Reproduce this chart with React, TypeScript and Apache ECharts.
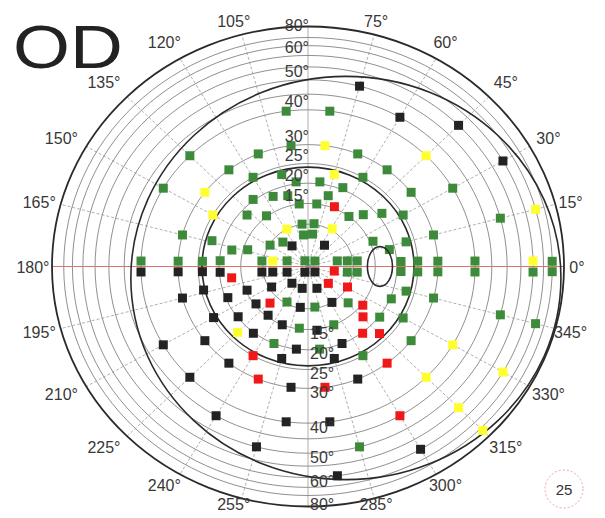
import React, { useEffect, useRef } from "react";
import * as echarts from "echarts";

const RAD = Math.PI / 180;
const S80 = Math.sin(80 * RAD);

// grid rings (eccentricity, degrees)
const RING_ECC = [10, 15, 20, 25, 30, 40, 45, 50, 55, 60, 65, 70];
const OUTER_ECC = 80;
const MERIDIANS = [0, 15, 30, 45, 60, 75, 90, 105, 120, 135, 150, 165, 180, 195, 210, 225, 240, 255, 270, 285, 300, 315, 330, 345];
const ANGLE_LABELS = [0, 15, 30, 45, 60, 75, 105, 120, 135, 150, 165, 180, 195, 210, 225, 240, 255, 285, 300, 315, 330, 345];
const RING_LABELS = [15, 20, 25, 30, 40, 50, 60, 80];

// isopters in projected units (1 = 80° ring)
const ISOPTERS = [
  { cx: 0, cy: 0, r: 1, w: 1.8 },
  { cx: 0.148, cy: -0.048, r: 0.84, w: 1.6 },
  { cx: 0, cy: 0, r: 0.414, w: 1.6 },
];
const BLIND_SPOT = { cx: 0.281, cy: 0, rx: 0.049, ry: 0.083 };

// test points: [meridian angle °, eccentricity °]
const GREEN_PTS: [number, number][] = [
  [97.5, 40], [82.5, 40], [97.5, 30], [112.5, 30], [67.5, 30], [127.5, 30], [120, 25], [105, 23], [60, 25], [52.5, 30],
  [135, 40], [150, 40], [165, 30], [178, 40], [177.5, 30], [177, 24], [285, 50], [322.5, 30], [345, 65], [345, 50],
  [330, 25], [345, 30], [345, 23], [15, 50], [30, 40], [37.5, 30], [30, 25], [15, 30], [15, 23], [3, 25], [357, 25],
  [2.5, 30], [357.5, 30], [2, 40], [358, 40], [358.5, 60], [1.3, 70], [358.7, 70], [3.3, 21], [356.7, 21], [300, 25],
  [277.5, 20], [247.5, 20],
  [97.5, 20.5], [82.5, 20.5], [67.5, 20.5], [127.5, 20.3], [115, 18.5], [105, 17.5], [75, 17.5], [97.5, 15], [82.5, 15],
  [52.5, 15], [45, 17.5], [37.5, 21], [138, 18.4], [127.5, 15.2], [97.5, 10.1], [82.5, 10.2], [97.5, 7.5], [82.5, 7.7],
  [164, 22.6], [167, 17.5], [163.5, 14], [149, 9.8], [134, 8], [22.5, 15.7], [12.5, 18.7],
  [176, 19.8], [172.7, 10.3], [164, 4.8], [117, 1.5], [40, 2], [11.5, 6.6], [8.6, 8.8], [6.9, 11],
  [351.4, 8.8], [353, 11], [241, 9.6], [279, 9.7], [316, 12.4], [323, 20.2], [262.5, 14.8], [292.5, 15], [337.5, 20.3],
];
const BLACK_PTS: [number, number][] = [
  [75, 50], [60, 45], [45, 55], [30, 60], [182, 40], [182.5, 30], [183, 24], [195, 30], [210, 40], [225, 40], [240, 45],
  [255, 50], [262.5, 40], [277.5, 40], [277.5, 60], [300, 60], [217.5, 30], [232.5, 30], [262.5, 30], [292.5, 30],
  [285, 23], [255, 23], [262.5, 20], [292.5, 20],
  [126, 6], [54, 6.2], [184, 19.8], [187.3, 10.3], [189.5, 7.9], [196, 4.8], [243, 1.5], [320, 2],
  [193.5, 24.4], [202.5, 19.5], [202.5, 14.7], [217.5, 14.6], [232.5, 14.6], [211, 9.4], [228, 5.3], [256, 5.3],
  [291, 5.5], [260, 9.8], [302, 10], [210, 24.8], [217.5, 19.8], [232.5, 20.2], [247.5, 15], [277.5, 15.3],
];
const YELLOW_PTS: [number, number][] = [
  [82.5, 30], [75, 23], [45, 40], [315, 72], [315, 55], [315, 40], [330, 60], [330, 40], [15, 65], [1.5, 60],
  [142.5, 30], [150, 25], [118, 10], [59, 10.4], [170.5, 7.9], [225, 22.5],
];
const RED_PTS: [number, number][] = [
  [300, 45], [240, 25], [247.5, 30], [277.5, 30], [307.5, 30], [67.5, 15.4], [189, 17.3], [349.5, 5.9], [318.5, 6],
  [331, 10], [225.8, 12.1], [323, 15.3], [315.7, 17.2], [307.5, 20.2], [315, 22.9],
];

const EYE = "OD";
const BADGE = "25";

function proj(angle: number, ecc: number): [number, number] {
  const r = Math.sin(ecc * RAD) / S80;
  return [r * Math.cos(angle * RAD), r * Math.sin(angle * RAD)];
}
// where an angle label sits, in axis units
function labelPos(a: number): [number, number] {
  const s = Math.sin(a * RAD);
  const k = 1 + 0.045 * Math.pow(Math.sin(2 * a * RAD), 2);
  return [-0.012 + 1.0625 * k * Math.cos(a * RAD), -0.006 + 0.022 * s * s + 1.029 * k * s];
}

const FONT = '"Liberation Sans", Arial, sans-serif';

function scatter(name: string, pts: [number, number][], color: string) {
  return {
    type: "scatter",
    name,
    symbol: "rect",
    symbolSize: 9,
    clip: false,
    z: 5,
    itemStyle: { color, opacity: 1 },
    data: pts.map(([a, e]) => proj(a, e)),
  };
}

export default function App() {
  const ref = useRef<HTMLDivElement>(null);
  useEffect(() => {
    if (!ref.current) return;
    const chart = echarts.init(ref.current, null, { renderer: "svg" });
    const option: any = {
      animation: false,
      backgroundColor: "#ffffff",
      grid: { left: 52, top: 26.5, width: 512, height: 480 },
      xAxis: { type: "value", min: -1, max: 1, show: false },
      yAxis: { type: "value", min: -1, max: 1, show: false },
      series: [
        {
          type: "custom",
          name: "rings",
          silent: true,
          clip: false,
          z: 1,
          data: RING_ECC.map((e) => [0, 0, e]),
          renderItem: (params: any, api: any) => {
            const e = RING_ECC[params.dataIndex];
            const r = Math.sin(e * RAD) / S80;
            const c = api.coord([0, 0]);
            const s = api.size([r, r]);
            return {
              type: "ellipse",
              shape: { cx: c[0], cy: c[1], rx: s[0], ry: s[1] },
              style: { fill: "none", stroke: "#747474", lineWidth: 0.8 },
            };
          },
        },
        {
          type: "custom",
          name: "meridians",
          silent: true,
          clip: false,
          z: 2,
          data: MERIDIANS.map((a) => [0, 0, a]),
          renderItem: (params: any, api: any) => {
            const a = MERIDIANS[params.dataIndex];
            const c = api.coord([0, 0]);
            const p = api.coord(proj(a, OUTER_ECC));
            const isH = a === 0 || a === 180;
            const isV = a === 90 || a === 270;
            return {
              type: "line",
              shape: { x1: c[0], y1: c[1], x2: p[0], y2: p[1] },
              style: {
                stroke: isH ? "#d8746c" : "#8e8e8e",
                lineWidth: isH ? 1 : 0.7,
                lineDash: isH || isV ? null : [3, 2],
              },
            };
          },
        },
        {
          type: "custom",
          name: "isopters",
          silent: true,
          clip: false,
          z: 3,
          data: ISOPTERS.map((o) => [o.cx, o.cy, o.r]),
          renderItem: (params: any, api: any) => {
            const o = ISOPTERS[params.dataIndex];
            const c = api.coord([o.cx, o.cy]);
            const s = api.size([o.r, o.r]);
            return {
              type: "ellipse",
              shape: { cx: c[0], cy: c[1], rx: s[0], ry: s[1] },
              style: { fill: "none", stroke: "#2a2a2a", lineWidth: o.w },
            };
          },
        },
        {
          type: "custom",
          name: "blindspot",
          silent: true,
          clip: false,
          z: 6,
          data: [[BLIND_SPOT.cx, BLIND_SPOT.cy]],
          renderItem: (params: any, api: any) => {
            const c = api.coord([BLIND_SPOT.cx, BLIND_SPOT.cy]);
            const s = api.size([BLIND_SPOT.rx, BLIND_SPOT.ry]);
            return {
              type: "ellipse",
              shape: { cx: c[0], cy: c[1], rx: s[0], ry: s[1] },
              style: { fill: "none", stroke: "#2a2a2a", lineWidth: 1.6 },
            };
          },
        },
        scatter("green", GREEN_PTS, "#3d8b3a"),
        scatter("black", BLACK_PTS, "#232323"),
        scatter("yellow", YELLOW_PTS, "#ffff30"),
        scatter("red", RED_PTS, "#f01818"),
        {
          type: "custom",
          name: "angleLabels",
          silent: true,
          clip: false,
          z: 7,
          data: ANGLE_LABELS.map((a) => [...labelPos(a), a]),
          renderItem: (params: any, api: any) => {
            const a = ANGLE_LABELS[params.dataIndex];
            const p = api.coord(labelPos(a));
            return {
              type: "text",
              x: p[0],
              y: p[1],
              style: {
                text: a + "°",
                fill: "#383838",
                font: "16px " + FONT,
                textAlign: "center",
                textVerticalAlign: "middle",
                align: "center",
                verticalAlign: "middle",
              },
            };
          },
        },
        {
          type: "custom",
          name: "ringLabels",
          silent: true,
          clip: false,
          z: 7,
          data: [...RING_LABELS.map((e) => [0, proj(90, e)[1], e]), ...RING_LABELS.map((e) => [0, proj(270, e)[1], e])],
          renderItem: (params: any, api: any) => {
            const n = RING_LABELS.length;
            const upper = params.dataIndex < n;
            const e = RING_LABELS[params.dataIndex % n];
            const p = api.coord(proj(upper ? 90 : 270, e));
            const outer = e === OUTER_ECC;
            const dy = upper ? (outer ? -1 : -8) : outer ? -2 : 4;
            return {
              type: "text",
              x: upper ? p[0] + 1 : p[0] + 2,
              y: p[1] + dy,
              style: {
                text: e + "°",
                fill: "#3a3a3a",
                font: "16px " + FONT,
                textAlign: upper ? "right" : "left",
                textVerticalAlign: "middle",
                align: upper ? "right" : "left",
                verticalAlign: "middle",
              },
            };
          },
        },
      ],
      graphic: [
        {
          type: "text",
          x: 13,
          y: 46.5,
          scaleX: 1.18,
          style: {
            text: EYE,
            fill: "#222",
            font: "62px " + FONT,
            textAlign: "left",
            textVerticalAlign: "middle",
            align: "left",
            verticalAlign: "middle",
          },
        },
        {
          type: "circle",
          shape: { cx: 564, cy: 489, r: 19 },
          style: { fill: "none", stroke: "#f2a0a0", lineWidth: 1, lineDash: [2, 2] },
        },
        {
          type: "text",
          x: 564,
          y: 489,
          style: {
            text: BADGE,
            fill: "#333",
            font: "15px " + FONT,
            textAlign: "center",
            textVerticalAlign: "middle",
            align: "center",
            verticalAlign: "middle",
          },
        },
      ],
    };
    chart.setOption(option);
    return () => chart.dispose();
  }, []);
  return (
    <div
      ref={ref}
      style={{ position: "fixed", left: 0, top: 0, width: 605, height: 518, background: "#fff" }}
    />
  );
}
